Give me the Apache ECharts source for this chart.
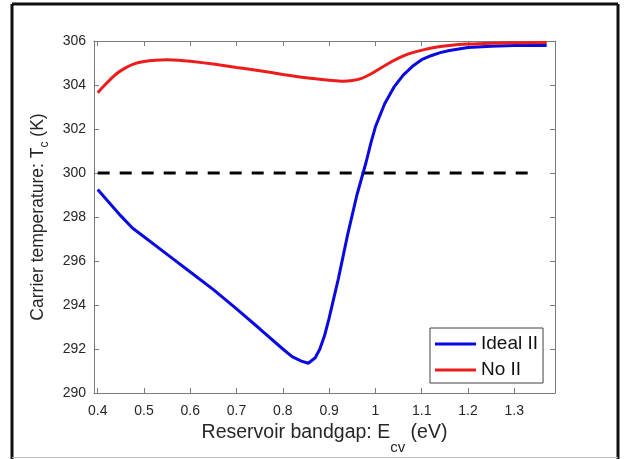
<!DOCTYPE html>
<html>
<head>
<meta charset="utf-8">
<script src="https://cdn.jsdelivr.net/npm/echarts@6/dist/echarts.min.js"></script>
<style>
    html, body { margin: 0; padding: 0; background: #fff; }
    #chart-container { width: 624px; height: 459px; }
</style>
</head>
<body>
<div id="chart-container"></div>
<script>
    'use strict';

    // Ideal II
    var idealX = [0.40, 0.425, 0.45, 0.475, 0.50, 0.55, 0.60, 0.65, 0.70, 0.75, 0.80, 0.82, 0.84, 0.855,
        0.87, 0.88, 0.89, 0.90, 0.91, 0.92, 0.93, 0.94, 0.95, 0.96, 0.97, 0.98, 0.99, 1.00, 1.02, 1.04,
        1.06, 1.08, 1.10, 1.12, 1.14, 1.16, 1.18, 1.20, 1.25, 1.30, 1.37];
    var idealY = [299.25, 298.65, 298.05, 297.5, 297.1, 296.3, 295.5, 294.7, 293.82, 292.92, 292.0, 291.65, 291.45, 291.35,
        291.6, 292.0, 292.6, 293.4, 294.3, 295.2, 296.2, 297.2, 298.1, 299.0, 299.75, 300.5, 301.35, 302.1, 303.15, 303.9,
        304.45, 304.85, 305.15, 305.33, 305.47, 305.57, 305.64, 305.7, 305.76, 305.79, 305.8];

    // No II
    var noX = [0.40, 0.42, 0.44, 0.46, 0.48, 0.50, 0.525, 0.55, 0.575, 0.60, 0.65, 0.70, 0.75, 0.80, 0.85,
        0.90, 0.93, 0.95, 0.97, 0.99, 1.01, 1.03, 1.05, 1.07, 1.09, 1.11, 1.13, 1.16, 1.20, 1.25, 1.30, 1.37];
    var noY = [303.65, 304.1, 304.5, 304.78, 304.97, 305.07, 305.13, 305.15, 305.13, 305.08, 304.95, 304.8, 304.65, 304.48, 304.33,
        304.22, 304.17, 304.2, 304.3, 304.5, 304.75, 305.0, 305.22, 305.4, 305.53, 305.63, 305.72, 305.8, 305.86, 305.9, 305.92, 305.93];

    // reference 300 K
    var refX = [0.40, 1.35];
    var refY = [300, 300];

    var xTicks = [0.4, 0.5, 0.6, 0.7, 0.8, 0.9, 1.0, 1.1, 1.2, 1.3];

    function pairs(xs, ys) {
        return xs.map(function(x, i) { return [x, ys[i]]; });
    }

    var axisColor = '#7a7a7a';
    var textColor = '#262626';
    var font = 'Liberation Sans, Arial, sans-serif';

    var chart = echarts.init(document.getElementById('chart-container'));

    var baseX = {
        type: 'value',
        min: 0.392,
        max: 1.388,
        axisLine: { show: true, onZero: false, lineStyle: { color: axisColor, width: 1 } },
        axisTick: { show: true, inside: true, length: 5, customValues: xTicks, lineStyle: { color: axisColor } },
        splitLine: { show: false }
    };
    var baseY = {
        type: 'value',
        min: 290,
        max: 306,
        interval: 2,
        axisLine: { show: true, onZero: false, lineStyle: { color: axisColor, width: 1 } },
        axisTick: { show: true, inside: true, length: 5, lineStyle: { color: axisColor } },
        splitLine: { show: false }
    };

    chart.setOption({
        animation: false,
        backgroundColor: '#fff',
        grid: { left: 94, right: 69, top: 41, bottom: 66, containLabel: false, outerBoundsMode: 'none' },
        xAxis: [
            echarts.util.merge({
                position: 'bottom',
                name: '{a|Reservoir bandgap: E}{s|cv}{a| (eV)}',
                nameLocation: 'middle',
                nameGap: 11,
                nameTextStyle: {
                    rich: {
                        a: { fontFamily: font, fontSize: 19.5, color: textColor, lineHeight: 44 },
                        s: { fontFamily: font, fontSize: 15, color: textColor, lineHeight: 14, verticalAlign: 'bottom' }
                    }
                },
                axisLabel: {
                    show: true, customValues: xTicks, margin: 11,
                    fontFamily: font, fontSize: 14, color: textColor,
                    formatter: function(v) { return String(Math.round(v * 10) / 10); }
                }
            }, baseX, true),
            echarts.util.merge({
                position: 'top',
                axisLabel: { show: false }
            }, baseX, true)
        ],
        yAxis: [
            echarts.util.merge({
                position: 'left',
                name: '{a|Carrier temperature: T}{s|c}{a| (K)}',
                nameLocation: 'middle',
                nameRotate: 90,
                nameGap: 43,
                nameTextStyle: {
                    rich: {
                        a: { fontFamily: font, fontSize: 17.5, color: textColor, lineHeight: 26 },
                        s: { fontFamily: font, fontSize: 12, color: textColor, lineHeight: 12, verticalAlign: 'bottom' }
                    }
                },
                axisLabel: { show: true, margin: 8, fontFamily: font, fontSize: 14, color: textColor }
            }, baseY, true),
            echarts.util.merge({
                position: 'right',
                axisLabel: { show: false }
            }, baseY, true)
        ],
        legend: {
            data: ['Ideal II', 'No II'],
            orient: 'vertical',
            left: 430,
            top: 328,
            width: 114,
            padding: [6, 5, 3, 5],
            itemGap: 6,
            itemWidth: 41,
            itemHeight: 3,
            icon: 'rect',
            backgroundColor: '#fff',
            borderColor: '#404040',
            borderWidth: 1,
            borderRadius: 0,
            selectedMode: false,
            textStyle: { fontFamily: font, fontSize: 19, color: '#111', lineHeight: 20 }
        },
        series: [
            {
                name: 'ref',
                type: 'line',
                data: pairs(refX, refY),
                symbol: 'none',
                silent: true,
                lineStyle: { color: '#000', width: 3, type: [12, 10] }
            },
            {
                name: 'Ideal II',
                type: 'line',
                data: pairs(idealX, idealY),
                symbol: 'none',
                itemStyle: { color: '#0a0ae0' },
                lineStyle: { color: '#0a0ae0', width: 3 }
            },
            {
                name: 'No II',
                type: 'line',
                data: pairs(noX, noY),
                symbol: 'none',
                smooth: 0.3,
                itemStyle: { color: '#ec1c1c' },
                lineStyle: { color: '#ec1c1c', width: 3 }
            }
        ],
        graphic: [
            // outer frame of the figure
            { type: 'line', shape: { x1: 12, y1: 4, x2: 618, y2: 4 }, style: { stroke: '#111', lineWidth: 3 } },
            { type: 'line', shape: { x1: 12, y1: 4, x2: 12, y2: 459 }, style: { stroke: '#111', lineWidth: 3 } },
            { type: 'line', shape: { x1: 618, y1: 4, x2: 618, y2: 459 }, style: { stroke: '#111', lineWidth: 3 } },
            { type: 'line', shape: { x1: 12, y1: 457.5, x2: 618, y2: 457.5 }, style: { stroke: '#bbb', lineWidth: 1 } }
        ]
    });
</script>
</body>
</html>
